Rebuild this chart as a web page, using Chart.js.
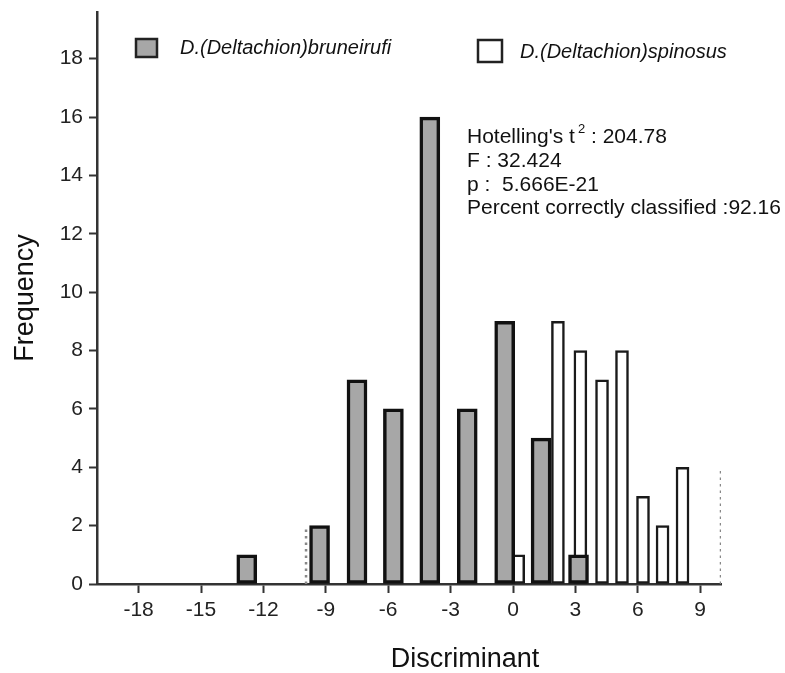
<!DOCTYPE html>
<html>
<head>
<meta charset="utf-8">
<script src="https://cdn.jsdelivr.net/npm/chart.js@4.4.1/dist/chart.umd.min.js"></script>
<style>
    html, body { margin: 0; padding: 0; background: #fff; }
    #wrap { width: 785px; height: 673px; }
</style>
</head>
<body>
<div id="wrap"><canvas id="discChart"></canvas></div>
<script>
// bin centres on the discriminant axis and counts
const bruneirufiBins = [-12.8, -9.3, -7.5, -5.75, -4.0, -2.2, -0.4, 1.35, 3.15];
const bruneirufiCounts = [1, 2, 7, 6, 16, 6, 9, 5, 1];
const spinosusBins = [0.25, 2.16, 3.24, 4.28, 5.24, 6.25, 7.19, 8.15];
const spinosusCounts = [1, 9, 8, 7, 8, 3, 2, 4];

// faint dotted guides left in the original figure
const guideX = [-9.95, 10];
const guideTop = [2, 3.9];

const xTicks = [-18, -15, -12, -9, -6, -3, 0, 3, 6, 9];
const yTicks = [0, 2, 4, 6, 8, 10, 12, 14, 16, 18];

const legendLabels = ['D.(Deltachion)bruneirufi', 'D.(Deltachion)spinosus'];
const statsLines = [
    ["Hotelling's t", '2', ' : 204.78'],
    ['F : 32.424'],
    ['p :  5.666E-21'],
    ['Percent correctly classified :92.16']
];

const FONT = "'Liberation Sans', Arial, Helvetica, sans-serif";
const GREY = '#a7a7a7';

function toPoints(xs, ys) {
    return xs.map((x, i) => ({ x: x, y: ys[i] }));
}

const guideSets = guideX.map((gx, i) => ({
    type: 'line',
    data: [{ x: gx, y: 0 }, { x: gx, y: guideTop[i] }],
    borderColor: '#888',
    borderWidth: 2.5,
    borderDash: [2.5, 4],
    pointRadius: 0,
    fill: false
}));

// legend, statistics block and x title drawn on top of the chart
const figureText = {
    id: 'figureText',
    afterDraw(chart) {
        const ctx = chart.ctx;
        ctx.save();
        ctx.textBaseline = 'middle';

        // legend boxes
        ctx.lineWidth = 2.5;
        ctx.strokeStyle = '#222';
        ctx.fillStyle = GREY;
        ctx.fillRect(136, 39, 21, 18);
        ctx.strokeRect(136, 39, 21, 18);
        ctx.fillStyle = '#fff';
        ctx.fillRect(478, 40, 24, 22);
        ctx.strokeRect(478, 40, 24, 22);

        ctx.fillStyle = '#111';
        ctx.font = 'italic 20px ' + FONT;
        ctx.fillText(legendLabels[0], 180, 48);
        ctx.fillText(legendLabels[1], 520, 52);

        // statistics
        ctx.textBaseline = 'alphabetic';
        const baselines = [143, 167, 191, 214];
        statsLines.forEach(function (parts, i) {
            let x = 467;
            ctx.font = '21px ' + FONT;
            ctx.fillText(parts[0], x, baselines[i]);
            if (parts.length > 1) {
                x += ctx.measureText(parts[0]).width + 3;
                ctx.font = '13px ' + FONT;
                ctx.fillText(parts[1], x, baselines[i] - 10);
                x += ctx.measureText(parts[1]).width;
                ctx.font = '21px ' + FONT;
                ctx.fillText(parts[2], x, baselines[i]);
            }
        });

        // x axis title
        ctx.font = '27px ' + FONT;
        ctx.textAlign = 'center';
        ctx.fillText('Discriminant', 465, 667);
        ctx.restore();
    }
};

const ctx = document.getElementById('discChart').getContext('2d');
window.discChart = new Chart(ctx, {
    type: 'bar',
    data: {
        datasets: [
            {
                label: legendLabels[0],
                data: toPoints(bruneirufiBins, bruneirufiCounts),
                backgroundColor: GREY,
                borderColor: '#111',
                borderWidth: 3.5,
                borderSkipped: false,
                barThickness: 20,
                grouped: false
            },
            {
                label: legendLabels[1],
                data: toPoints(spinosusBins, spinosusCounts),
                backgroundColor: '#fff',
                borderColor: '#1a1a1a',
                borderWidth: 2.5,
                borderSkipped: false,
                barThickness: 13,
                grouped: false
            }
        ].concat(guideSets)
    },
    options: {
        responsive: true,
        maintainAspectRatio: false,
        animation: false,
        layout: {
            padding: { left: 0, right: 64, top: 12, bottom: 0 }
        },
        scales: {
            x: {
                type: 'linear',
                min: -20,
                max: 10,
                offset: false,
                afterBuildTicks: function (s) {
                    s.ticks = xTicks.map(v => ({ value: v }));
                },
                afterFit: function (s) {
                    s.height = 89;
                    s.paddingLeft = 0;
                    s.paddingRight = 0;
                },
                grid: {
                    offset: false,
                    drawOnChartArea: false,
                    drawTicks: true,
                    tickLength: 9,
                    tickColor: '#333',
                    tickWidth: 2
                },
                border: { display: true, color: '#333', width: 2.5 },
                ticks: {
                    color: '#222',
                    padding: 5,
                    maxRotation: 0,
                    font: { family: FONT, size: 21 }
                }
            },
            y: {
                min: 0,
                max: 19.6,
                afterBuildTicks: function (s) {
                    s.ticks = yTicks.map(v => ({ value: v }));
                },
                afterFit: function (s) {
                    s.width = 97;
                    s.paddingTop = 0;
                    s.paddingBottom = 0;
                },
                grid: {
                    drawOnChartArea: false,
                    drawTicks: true,
                    tickLength: 8,
                    tickColor: '#333',
                    tickWidth: 2
                },
                border: { display: true, color: '#333', width: 2.5 },
                ticks: {
                    color: '#222',
                    padding: 6,
                    font: { family: FONT, size: 21 }
                },
                title: {
                    display: true,
                    text: 'Frequency',
                    color: '#111',
                    padding: { top: 9, bottom: 0 },
                    font: { family: FONT, size: 27 }
                }
            }
        },
        plugins: {
            legend: { display: false },
            tooltip: { enabled: false }
        }
    },
    plugins: [figureText]
});
</script>
</body>
</html>
